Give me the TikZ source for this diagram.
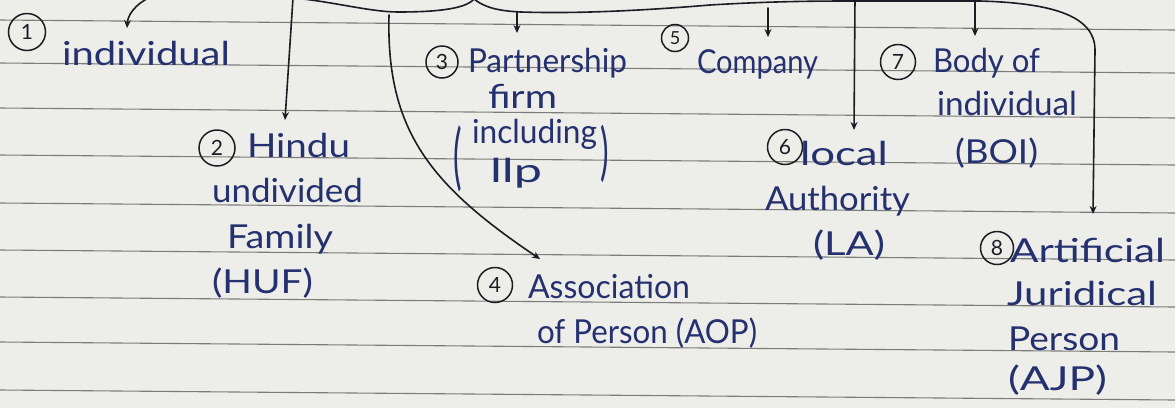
\documentclass[tikz,border=0pt]{standalone}
\usepackage{graphicx}
\usepackage{fontspec}
\setmainfont{Lato}
\usetikzlibrary{arrows.meta}
\definecolor{paper}{HTML}{EDEDEA}
\definecolor{rulegrey}{HTML}{7C7C7A}
\definecolor{ink}{HTML}{25306F}
\definecolor{pen}{HTML}{1C1C24}
\newcommand{\fitw}[2]{\resizebox{#1pt}{\height}{#2}}
\begin{document}
\begin{tikzpicture}[x=1pt,y=-1pt,
  hw/.style={anchor=base west,inner sep=0pt,outer sep=0pt,text=ink,font=\fontsize{33}{35}\selectfont},
  paren/.style={anchor=base,inner sep=0pt,outer sep=0pt,text=ink,font=\fontsize{32}{34}\selectfont},
  num/.style={circle,draw=pen,line width=1.5pt,inner sep=0pt,text=pen,font=\fontsize{21}{21}\selectfont},
  link/.style={draw=pen,line width=1.6pt,line cap=round},
  arr/.style={link,-{Stealth[length=8pt,width=7pt]}},
  ruling/.style={draw=rulegrey,line width=1.1pt}]
\useasboundingbox (0,0) rectangle (1175,408);
\fill[paper] (0,0) rectangle (1175,408);
\foreach \yy in {20,63,108,155,203,250,297,342,390}
  \draw[ruling] (0,\yy) -- (1175,\yy+10);

% circled numbers
\node[num,minimum size=37pt] (n1) at (27,32) {1};
\node[num,minimum size=36pt] (n2) at (217,148) {2};
\node[num,minimum size=32pt] (n3) at (442,62) {3};
\node[num,minimum size=35pt] (n4) at (495,285) {4};
\node[num,minimum size=27pt,font=\fontsize{18}{18}\selectfont] (n5) at (675,38) {5};
\node[num,minimum size=35pt] (n6) at (785,147) {6};
\node[num,minimum size=35pt] (n7) at (898,62) {7};
\node[num,minimum size=33pt] (n8) at (997,248) {8};

% texts
\node[hw] (ind) at (62,65) {\fitw{168}{individual}};
\node[hw] (huf1) at (247,157) {\fitw{103}{Hindu}};
\node[hw] (huf2) at (212,202) {\fitw{151}{undivided}};
\node[hw] (huf3) at (227,248) {\fitw{106}{Family}};
\node[hw] (huf4) at (212,293) {\fitw{101}{(HUF)}};
\node[hw] (pf1) at (468,72) {\fitw{159}{Partnership}};
\node[hw] (pf2) at (488,108) {\fitw{69}{firm}};
\node[paren] (lp) at (458,181) {\scalebox{1}[2.25]{(}};
\node[hw] (pf3) at (472,143) {\fitw{125}{including}};
\node[paren] (rp) at (605,173) {\scalebox{1}[1.95]{)}};
\node[hw] (pf4) at (490,182) {\fitw{52}{llp}};
\node[hw] (aop1) at (528,298) {\fitw{162}{Association}};
\node[hw] (aop2) at (537,343) {\fitw{220}{of Person (AOP)}};
\node[hw] (co) at (697,73) {\fitw{121}{Company}};
\node[hw] (la1) at (800,165) {\fitw{88}{local}};
\node[hw] (la2) at (765,210) {\fitw{145}{Authority}};
\node[hw] (la3) at (813,255) {\fitw{72}{(LA)}};
\node[hw] (boi1) at (933,72) {\fitw{107}{Body of}};
\node[hw] (boi2) at (937,115) {\fitw{140}{individual}};
\node[hw] (boi3) at (955,163) {\fitw{83}{(BOI)}};
\node[hw] (ajp1) at (1010,262) {\fitw{155}{Artificial}};
\node[hw] (ajp2) at (1007,305) {\fitw{150}{Juridical}};
\node[hw] (ajp3) at (1008,350) {\fitw{112}{Person}};
\node[hw] (ajp4) at (1008,390) {\fitw{99}{(AJP)}};

% connector coordinates
\coordinate (root) at (474,-1);
\coordinate (s1) at (158,-6);
\coordinate (s2) at (293,-2);
\coordinate (s4) at (389,15);
\coordinate (s3) at (517,12);
\coordinate (s5) at (768,8);
\coordinate (s6) at (855,-2);
\coordinate (s7) at (975,-2);
\coordinate (s8) at (1095,50);
\coordinate (t1) at (127,28);
\coordinate (t2) at (285,120);
\coordinate (t3) at (517,33);
\coordinate (t4) at (540,259);
\coordinate (t5) at (768,37);
\coordinate (t6) at (854,130);
\coordinate (t7) at (975,36);
\coordinate (t8) at (1093,214);

% brace line
\draw[link] (s2) .. controls (330,1) and (370,12) .. (398,12)
  .. controls (430,12) and (465,10) .. (root);
\draw[link] (root) .. controls (485,8) and (500,11) .. (521,12)
  .. controls (580,14) and (650,10) .. (710,5)
  .. controls (760,2) and (800,1) .. (850,1) -- (980,1)
  .. controls (1050,3) and (1095,15) .. (s8);

% arrows
\draw[arr] (s1) .. controls (140,0) and (128,12) .. (t1);
\draw[arr] (s2) -- (t2);
\draw[arr] (s4) .. controls (386,130) and (430,185) .. (t4);
\draw[arr] (s3) -- (t3);
\draw[arr] (s5) -- (t5);
\draw[arr] (s6) -- (t6);
\draw[arr] (s7) -- (t7);
\draw[arr] (s8) -- (t8);
\end{tikzpicture}
\end{document}
